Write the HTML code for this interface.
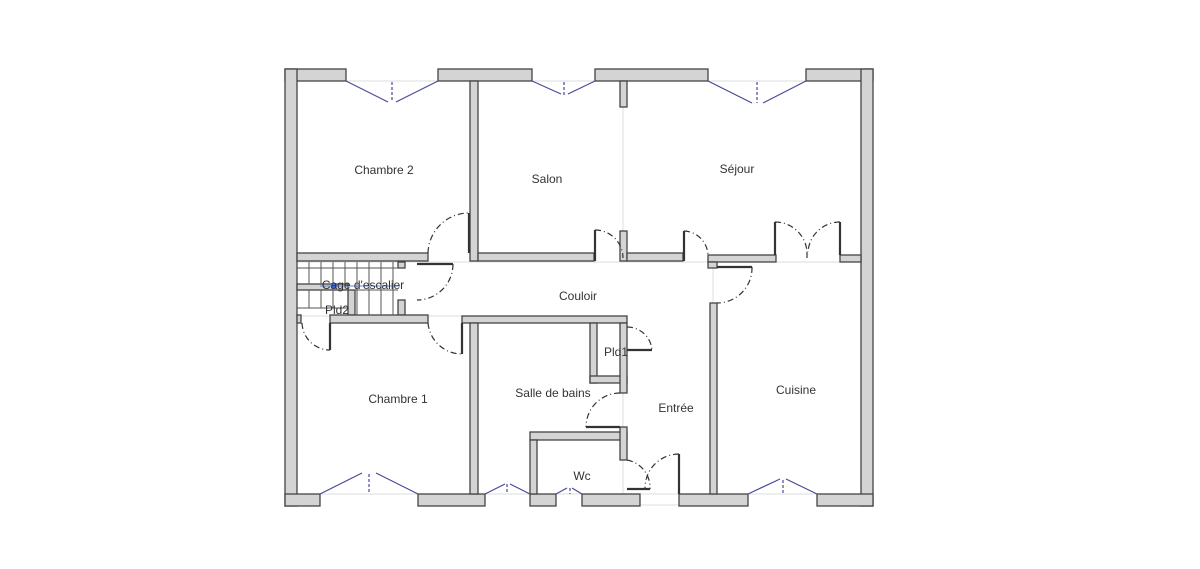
<!DOCTYPE html>
<html><head><meta charset="utf-8"><style>
html,body{margin:0;padding:0;background:#fff;}
svg{display:block}
text{font-family:"Liberation Sans",sans-serif;font-size:12px;fill:#333;text-anchor:middle}
</style></head><body>
<svg width="1200" height="569" viewBox="0 0 1200 569" xmlns="http://www.w3.org/2000/svg">
<!-- light guide lines -->
<g stroke="#ddd" stroke-width="1" fill="none">
<line x1="297" y1="81" x2="861" y2="81"/>
<line x1="297" y1="494" x2="861" y2="494"/>
<line x1="623" y1="107" x2="623" y2="231"/>
<line x1="297" y1="262" x2="861" y2="262"/>
<line x1="297" y1="316" x2="627" y2="316"/>
<line x1="713" y1="268" x2="713" y2="303"/>
<line x1="623" y1="323" x2="623" y2="494"/>
<line x1="640" y1="505" x2="680" y2="505"/>
</g>
<g fill="#d4d4d4" stroke="#444" stroke-width="1.3">
<!-- outer walls -->
<rect x="285" y="69" width="61" height="12"/>
<rect x="438" y="69" width="94" height="12"/>
<rect x="595" y="69" width="113" height="12"/>
<rect x="806" y="69" width="67" height="12"/>
<rect x="285" y="69" width="12" height="437"/>
<rect x="861" y="69" width="12" height="437"/>
<rect x="285" y="494" width="35" height="12"/>
<rect x="418" y="494" width="67" height="12"/>
<rect x="530" y="494" width="26" height="12"/>
<rect x="582" y="494" width="58" height="12"/>
<rect x="679" y="494" width="69" height="12"/>
<rect x="817" y="494" width="56" height="12"/>
<!-- interior -->
<rect x="470" y="81" width="8" height="180"/>
<rect x="297" y="253" width="131" height="8"/>
<rect x="478" y="253" width="116" height="8"/>
<rect x="620" y="81" width="7" height="26"/>
<rect x="620" y="231" width="7" height="30"/>
<rect x="627" y="253" width="56" height="8"/>
<rect x="708" y="255" width="68" height="7"/>
<rect x="708" y="262" width="9" height="6"/>
<rect x="840" y="255" width="21" height="7"/>
<rect x="710" y="303" width="7" height="191"/>
<!-- stairs area -->
<rect x="297" y="284" width="51" height="6"/>
<rect x="348" y="290" width="7" height="25"/>
<rect x="398" y="262" width="7" height="6"/>
<rect x="398" y="300" width="7" height="15"/>
<rect x="297" y="315" width="4" height="8"/>
<rect x="330" y="315" width="98" height="8"/>
<!-- couloir bottom -->
<rect x="462" y="316" width="165" height="7"/>
<rect x="470" y="323" width="8" height="171"/>
<!-- pld1 box -->
<rect x="590" y="323" width="7" height="60"/>
<rect x="590" y="376" width="37" height="7"/>
<rect x="620" y="323" width="7" height="70"/>
<!-- wc -->
<rect x="530" y="432" width="97" height="8"/>
<rect x="530" y="440" width="7" height="54"/>
<rect x="620" y="427" width="7" height="33"/>
</g>
<!-- stairs steps -->
<g stroke="#555" stroke-width="1">
<line x1="297" y1="268" x2="398" y2="268"/>
<line x1="355" y1="290" x2="398" y2="290"/>
<line x1="297" y1="308" x2="348" y2="308"/>
<line x1="309" y1="262" x2="309" y2="284"/><line x1="321" y1="262" x2="321" y2="284"/><line x1="333" y1="262" x2="333" y2="284"/><line x1="345" y1="262" x2="345" y2="284"/>
<line x1="357" y1="262" x2="357" y2="315"/><line x1="369" y1="262" x2="369" y2="315"/><line x1="381" y1="262" x2="381" y2="315"/><line x1="393" y1="262" x2="393" y2="315"/>
<line x1="309" y1="290" x2="309" y2="308"/><line x1="321" y1="290" x2="321" y2="308"/><line x1="333" y1="290" x2="333" y2="308"/>
</g>
<line x1="320" y1="286" x2="400" y2="286" stroke="#6a8ad0" stroke-width="1"/>
<circle cx="334" cy="286" r="3" fill="#3a6ad0"/>
<!-- door leaves -->
<g stroke="#333" stroke-width="2.2">
<line x1="469" y1="213" x2="469" y2="253"/>
<line x1="417" y1="264" x2="453" y2="264"/>
<line x1="462" y1="323" x2="462" y2="354"/>
<line x1="330" y1="323" x2="330" y2="350"/>
<line x1="595" y1="230" x2="595" y2="261"/>
<line x1="684" y1="231" x2="684" y2="261"/>
<line x1="775" y1="222" x2="775" y2="255"/>
<line x1="840" y1="222" x2="840" y2="255"/>
<line x1="717" y1="267" x2="752" y2="267"/>
<line x1="627" y1="350" x2="652" y2="350"/>
<line x1="586" y1="427" x2="620" y2="427"/>
<line x1="627" y1="489" x2="650" y2="489"/>
<line x1="679" y1="454" x2="679" y2="494"/>
</g>
<!-- door arcs -->
<g stroke="#333" stroke-width="1.2" fill="none" stroke-dasharray="6,3,1,3">
<path d="M428 253 A41 41 0 0 1 469 213"/>
<path d="M453 264 A36 36 0 0 1 417 300"/>
<path d="M428 323 A34 34 0 0 0 462 354"/>
<path d="M302 323 A28 28 0 0 0 330 350"/>
<path d="M595 230 A28 28 0 0 1 623 258"/>
<path d="M684 231 A25 25 0 0 1 708 255"/>
<path d="M775 222 A32 32 0 0 1 807 252"/>
<path d="M840 222 A32 32 0 0 0 808 252"/>
<line x1="807" y1="252" x2="807" y2="258"/>
<path d="M752 267 A35 35 0 0 1 717 303"/>
<path d="M627 327 A25 25 0 0 1 652 350"/>
<path d="M620 393 A34 34 0 0 0 586 427"/>
<path d="M627 460 A28 28 0 0 1 650 489"/>
<path d="M679 454 A34 34 0 0 0 645 488"/>
</g>
<!-- windows -->
<g stroke="#4a4a9a" stroke-width="1.2" fill="none">
<polyline points="346,81 388,102"/><polyline points="438,81 396,102"/>
<polyline points="532,81 561,94"/><polyline points="595,81 568,94"/>
<polyline points="708,81 752,103"/><polyline points="806,81 763,103"/>
<polyline points="320,494 362,473"/><polyline points="418,494 376,473"/>
<polyline points="485,494 505,484"/><polyline points="530,494 510,484"/>
<polyline points="556,494 567,488"/><polyline points="582,494 572,488"/>
<polyline points="748,494 780,479"/><polyline points="817,494 786,479"/>
</g>
<g stroke="#4a4a9a" stroke-width="1.2" stroke-dasharray="3,2">
<line x1="392" y1="82" x2="392" y2="102"/>
<line x1="564" y1="82" x2="564" y2="95"/>
<line x1="757" y1="82" x2="757" y2="103"/>
<line x1="369" y1="474" x2="369" y2="494"/>
<line x1="507" y1="484" x2="507" y2="494"/>
<line x1="570" y1="488" x2="570" y2="494"/>
<line x1="783" y1="480" x2="783" y2="494"/>
</g>
<!-- labels -->
<text x="384" y="174">Chambre 2</text>
<text x="547" y="183">Salon</text>
<text x="737" y="173">Séjour</text>
<text x="578" y="300">Couloir</text>
<text x="363" y="289">Cage d'escalier</text>
<text x="337" y="314">Pld2</text>
<text x="616" y="356">Pld1</text>
<text x="553" y="397">Salle de bains</text>
<text x="676" y="412">Entrée</text>
<text x="796" y="394">Cuisine</text>
<text x="398" y="403">Chambre 1</text>
<text x="582" y="480">Wc</text>
</svg>
</body></html>
